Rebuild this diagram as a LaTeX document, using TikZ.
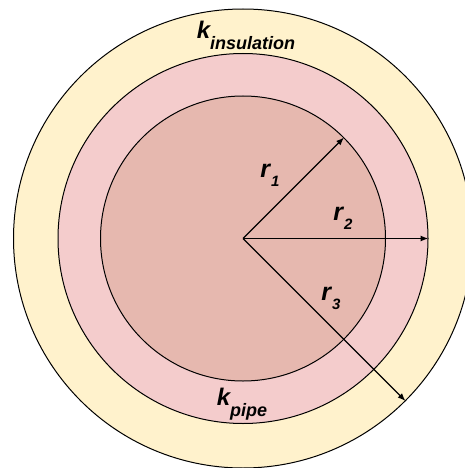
\documentclass[tikz,border=0pt]{standalone}
\usepackage{fontspec}
\setmainfont{Liberation Sans}
\usetikzlibrary{arrows.meta}
\definecolor{InsulationYellow}{HTML}{FFF2CC}
\definecolor{PipePink}{HTML}{F4CCCC}
\definecolor{CoreRose}{HTML}{E6B8AF}

% conductivity label: k with a subscript
\newcommand{\condsym}[1]{{\fontsize{24}{24}\selectfont k}\raisebox{-11pt}{\fontsize{18}{18}\selectfont #1}}
% radius label: r with an index
\newcommand{\radsym}[1]{{\fontsize{25}{25}\selectfont r}\kern1pt\raisebox{-9pt}{\fontsize{15}{15}\selectfont #1}}

\tikzset{
  ring/.style={circle, draw=black, line width=1pt, inner sep=0pt},
  radius arrow/.style={line width=1.2pt, -{Latex[length=8pt,width=6pt]}},
  symbol/.style={font=\bfseries\itshape, inner sep=0pt}
}

\begin{document}
\begin{tikzpicture}[x=1pt, y=-1pt]
  \useasboundingbox (0,0) rectangle (465,468);
  \coordinate (c) at (243,238.5);

  % layers, outside in
  \node[ring, fill=InsulationYellow, minimum size=459pt] (outer) at (c) {};
  \node[ring, fill=PipePink, minimum size=370pt] (middle) at (c) {};
  \node[ring, fill=CoreRose, minimum size=285pt] (inner) at (c) {};

  % radii
  \draw[radius arrow] (c) -- (inner.45);
  \draw[radius arrow] (c) -- (middle.0);
  \draw[radius arrow] (c) -- (outer.-45);

  % labels
  \node[symbol] (kins) at (246,35) {\condsym{insulation}};
  \node[symbol] (kpipe) at (242,404) {\condsym{pipe}};
  \node[symbol] (r1) at (270,175) {\radsym{1}};
  \node[symbol] (r2) at (343,218) {\radsym{2}};
  \node[symbol] (r3) at (331,298) {\radsym{3}};
\end{tikzpicture}
\end{document}
